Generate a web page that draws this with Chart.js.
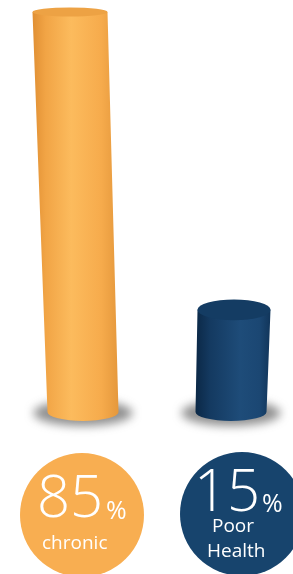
<!DOCTYPE html>
<html>
<head>
<meta charset="utf-8">
<script src="https://cdn.jsdelivr.net/npm/chart.js@4"></script>
<style>
  html, body { margin: 0; padding: 0; background: #fff; }
  #wrap { position: relative; width: 293px; height: 574px; overflow: hidden; }
  #cylChart { position: absolute; left: 0; top: 0; }
  .disc { position: absolute; border-radius: 50%; }
  .lbl { position: absolute; color: #fff; font-family: "Open Sans", sans-serif; font-weight: 300; line-height: 1; white-space: nowrap; }
</style>
</head>
<body>
<div id="wrap">
  <div style="position:absolute;left:0;top:0;width:293px;height:574px"><canvas id="cylChart"></canvas></div>
</div>
<script>
// Données
const categories = ['chronic', 'Poor Health'];
const values = [85, 15];
const colors = ['#f8ae51', '#17446d'];

// Style des cylindres (perspective)
const lean = [-13, 3];
const topWidth = [75, 73];

function cylinderShade(ctx, i, left, right) {
    const g = ctx.createLinearGradient(left, 0, right, 0);
    if (i === 0) {
        g.addColorStop(0, '#e08f33');
        g.addColorStop(0.15, '#f1a445');
        g.addColorStop(0.45, '#fcbb5d');
        g.addColorStop(0.8, '#f6ab4c');
        g.addColorStop(1, '#e5983c');
    } else {
        g.addColorStop(0, '#0b2846');
        g.addColorStop(0.2, '#143a61');
        g.addColorStop(0.6, '#1e4c79');
        g.addColorStop(0.85, '#1b4773');
        g.addColorStop(1, '#11355a');
    }
    return g;
}

const cylinderPlugin = {
    id: 'cylinders',
    afterDatasetsDraw(chart) {
        const ctx = chart.ctx;
        const meta = chart.getDatasetMeta(0);
        meta.data.forEach((bar, i) => {
            const xb = bar.x, yb = bar.base, yt = bar.y;
            const wb = bar.width, wt = topWidth[i];
            const xt = xb + lean[i];
            const ryTop = 4.5 + (yt - 12) * 0.02;
            const ryBot = 9;

            // ombre
            ctx.save();
            ctx.filter = 'blur(5px)';
            ctx.fillStyle = 'rgba(70,70,70,0.6)';
            ctx.beginPath();
            ctx.ellipse(xb, yb + 1, wb / 2 + 14, 13, 0, 0, Math.PI * 2);
            ctx.fill();
            ctx.restore();

            // corps
            ctx.save();
            ctx.fillStyle = cylinderShade(ctx, i, Math.min(xb - wb / 2, xt - wt / 2), Math.max(xb + wb / 2, xt + wt / 2));
            ctx.beginPath();
            ctx.moveTo(xt - wt / 2, yt);
            ctx.lineTo(xt + wt / 2, yt);
            ctx.lineTo(xb + wb / 2, yb);
            ctx.ellipse(xb, yb, wb / 2, ryBot, 0, 0, Math.PI);
            ctx.closePath();
            ctx.fill();

            // dessus
            ctx.fillStyle = i === 0 ? '#eda244' : '#143c63';
            ctx.beginPath();
            ctx.ellipse(xt, yt, wt / 2, ryTop, 0, 0, Math.PI * 2);
            ctx.fill();
            ctx.restore();
        });
    }
};

const ctx = document.getElementById('cylChart').getContext('2d');
new Chart(ctx, {
    type: 'bar',
    data: {
        labels: categories,
        datasets: [{
            data: values,
            base: -9,
            backgroundColor: 'rgba(0,0,0,0)',
            barThickness: 71,
            clip: false
        }]
    },
    options: {
        responsive: true,
        maintainAspectRatio: false,
        animation: false,
        layout: { padding: { left: 83, right: 62, top: 12, bottom: 162 } },
        plugins: { legend: { display: false }, tooltip: { enabled: false } },
        scales: {
            x: { display: false, offset: false },
            y: { display: false, min: -9, max: 85 }
        }
    },
    plugins: [cylinderPlugin]
});

// Pastilles et libellés
const wrap = document.getElementById('wrap');
const discs = [{ x: 82, y: 515 }, { x: 242, y: 514 }];
discs.forEach((d, i) => {
    const el = document.createElement('div');
    el.className = 'disc';
    el.style.cssText = `left:${d.x - 62}px;top:${d.y - 62}px;width:124px;height:124px;background:${colors[i]}`;
    wrap.appendChild(el);
});

function addLabel(text, left, baseline, size, weight) {
    const el = document.createElement('div');
    el.className = 'lbl';
    el.textContent = text;
    el.style.left = left + 'px';
    el.style.top = (baseline - 0.888 * size) + 'px';
    el.style.fontSize = size + 'px';
    if (weight) el.style.fontWeight = weight;
    wrap.appendChild(el);
}

addLabel(String(values[0]), 37, 518, 58);
addLabel('%', 106, 519, 25, 400);
addLabel(categories[0], 42, 550, 19, 400);
addLabel(String(values[1]), 194, 512, 58);
addLabel('%', 262, 512, 25, 400);
addLabel('Poor', 212, 533, 19, 400);
addLabel('Health', 207, 558, 19, 400);
</script>
</body>
</html>
